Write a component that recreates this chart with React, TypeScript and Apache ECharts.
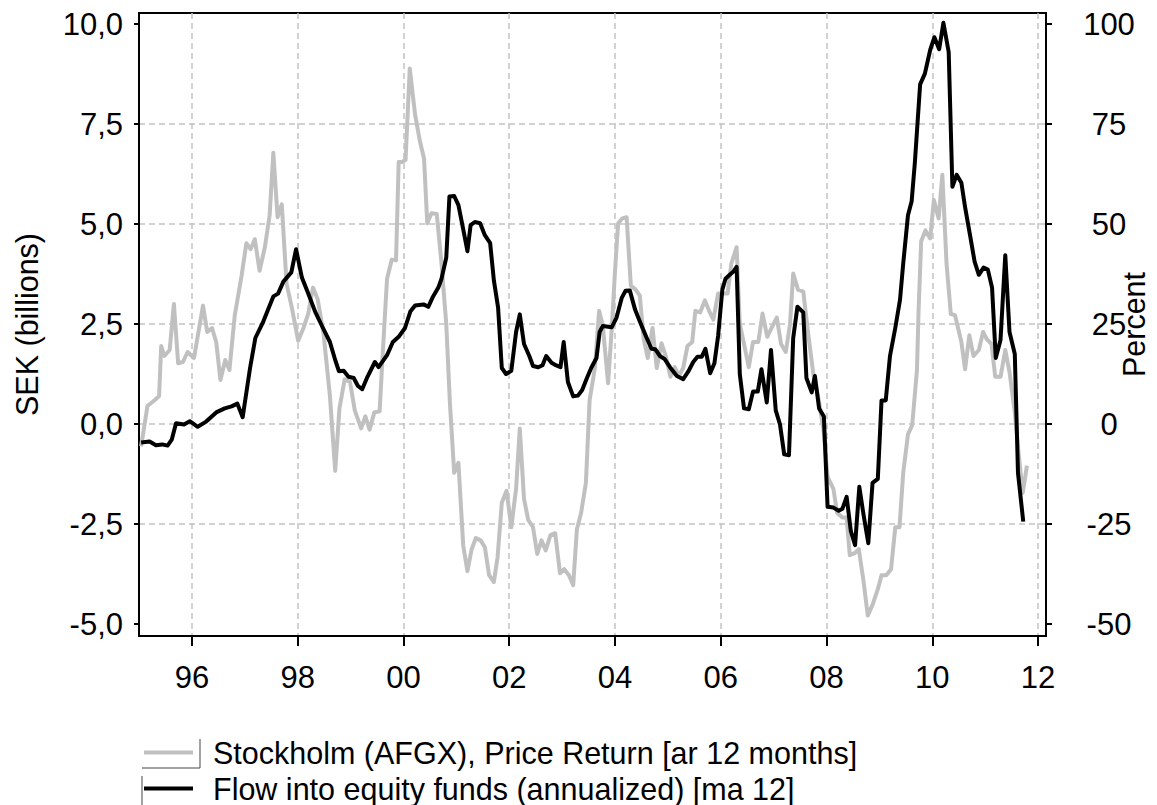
import React, { useEffect, useRef } from "react";
import * as echarts from "echarts";

const FONT = '"Liberation Sans", Arial, Helvetica, sans-serif';

// Flow into equity funds (annualized) [ma 12], SEK billions
const flowDates = [
  1995.04, 1995.2, 1995.32, 1995.44, 1995.54, 1995.62, 1995.7, 1995.85, 1995.96, 1996.11,
  1996.27, 1996.46, 1996.62, 1996.75, 1996.86, 1996.96, 1997.1, 1997.2, 1997.35, 1997.54,
  1997.63, 1997.73, 1997.88, 1997.97, 1998.08, 1998.2, 1998.33, 1998.46, 1998.61, 1998.71,
  1998.78, 1998.87, 1998.96, 1999.06, 1999.14, 1999.22, 1999.32, 1999.46, 1999.53, 1999.69,
  1999.8, 1999.91, 2000.03, 2000.13, 2000.22, 2000.38, 2000.47, 2000.55, 2000.66, 2000.72,
  2000.81, 2000.87, 2000.96, 2001.04, 2001.13, 2001.21, 2001.27, 2001.35, 2001.45, 2001.54,
  2001.64, 2001.71, 2001.79, 2001.86, 2001.94, 2002.04, 2002.13, 2002.2, 2002.28, 2002.38,
  2002.45, 2002.55, 2002.63, 2002.7, 2002.8, 2002.88, 2002.97, 2003.03, 2003.11, 2003.21,
  2003.3, 2003.38, 2003.47, 2003.55, 2003.65, 2003.71, 2003.77, 2003.94, 2004.03, 2004.13,
  2004.2, 2004.28, 2004.38, 2004.47, 2004.6, 2004.69, 2004.76, 2004.85, 2004.94, 2005.04,
  2005.17, 2005.29, 2005.39, 2005.48, 2005.56, 2005.64, 2005.71, 2005.8, 2005.88, 2005.95,
  2006.03, 2006.09, 2006.17, 2006.24, 2006.3, 2006.36, 2006.44, 2006.53, 2006.61, 2006.7,
  2006.77, 2006.87, 2006.95, 2007.04, 2007.12, 2007.2, 2007.29, 2007.37, 2007.45, 2007.56,
  2007.62, 2007.72, 2007.78, 2007.86, 2007.95, 2008.02, 2008.13, 2008.23, 2008.3, 2008.38,
  2008.46, 2008.54, 2008.62, 2008.7, 2008.79, 2008.87, 2008.97, 2009.04, 2009.12, 2009.2,
  2009.3, 2009.39, 2009.45, 2009.54, 2009.61, 2009.67, 2009.77, 2009.86, 2009.96, 2010.04,
  2010.13, 2010.21, 2010.31, 2010.38, 2010.46, 2010.55, 2010.62, 2010.72, 2010.8, 2010.88,
  2010.97, 2011.05, 2011.13, 2011.2, 2011.29, 2011.38, 2011.46, 2011.56, 2011.62, 2011.72,
];
const flowValues = [
  -0.46, -0.44, -0.53, -0.51, -0.54, -0.39, 0.02, -0.01, 0.07, -0.07,
  0.06, 0.29, 0.39, 0.44, 0.51, 0.17, 1.4, 2.15, 2.56, 3.19,
  3.26, 3.56, 3.79, 4.37, 3.66, 3.26, 2.81, 2.45, 2.05, 1.6,
  1.32, 1.33, 1.18, 1.15, 0.95, 0.87, 1.18, 1.55, 1.42, 1.72,
  2.05, 2.18, 2.4, 2.81, 2.96, 2.99, 2.93, 3.16, 3.41, 3.63,
  4.16, 5.69, 5.7, 5.47, 4.87, 4.32, 4.97, 5.05, 5.02, 4.72,
  4.52, 3.59, 2.91, 1.4, 1.25, 1.33, 2.3, 2.74, 2.0, 1.7,
  1.45, 1.42, 1.47, 1.7, 1.53, 1.47, 1.42, 2.05, 1.05, 0.69,
  0.71, 0.85, 1.15, 1.4, 1.65, 2.3, 2.45, 2.42, 2.66, 3.16,
  3.33, 3.34, 2.86, 2.56, 2.15, 1.88, 1.87, 1.7, 1.62, 1.42,
  1.2, 1.12, 1.32, 1.55, 1.68, 1.68, 1.88, 1.27, 1.52, 2.2,
  3.36, 3.63, 3.73, 3.81, 3.93, 1.25, 0.39, 0.37, 0.81, 0.81,
  1.37, 0.54, 1.85, 0.34, -0.01, -0.76, -0.78, 2.15, 2.93, 2.79,
  1.15, 0.79, 1.2, 0.39, 0.19, -2.07, -2.09, -2.17, -2.12, -1.82,
  -2.68, -3.03, -1.57, -2.27, -2.98, -1.47, -1.37, 0.59, 0.59, 1.7,
  2.4, 3.11, 4.01, 5.22, 5.57, 6.53, 8.49, 8.76, 9.35, 9.67,
  9.37, 10.03, 9.3, 5.93, 6.23, 6.03, 5.42, 4.67, 4.06, 3.73,
  3.91, 3.86, 3.41, 1.65, 2.1, 4.22, 2.3, 1.75, -1.22, -2.44,
];

// Stockholm (AFGX), Price Return [ar 12 months], percent
const stockDates = [
  1995.04, 1995.16, 1995.3, 1995.38, 1995.42, 1995.48, 1995.58, 1995.66, 1995.74, 1995.83,
  1995.92, 1996.04, 1996.21, 1996.29, 1996.38, 1996.46, 1996.54, 1996.63, 1996.71, 1996.81,
  1996.94, 1997.03, 1997.11, 1997.19, 1997.28, 1997.38, 1997.47, 1997.54, 1997.62, 1997.7,
  1997.79, 1997.89, 1998.01, 1998.11, 1998.2, 1998.29, 1998.38, 1998.49, 1998.61, 1998.71,
  1998.79, 1998.89, 1998.99, 1999.08, 1999.2, 1999.28, 1999.36, 1999.45, 1999.55, 1999.61,
  1999.69, 1999.78, 1999.86, 1999.91, 1999.97, 2000.04, 2000.12, 2000.22, 2000.31, 2000.39,
  2000.45, 2000.53, 2000.63, 2000.72, 2000.81, 2000.88, 2000.96, 2001.04, 2001.13, 2001.21,
  2001.29, 2001.37, 2001.46, 2001.54, 2001.62, 2001.71, 2001.78, 2001.86, 2001.95, 2002.04,
  2002.13, 2002.2, 2002.28, 2002.36, 2002.45, 2002.53, 2002.61, 2002.69, 2002.78, 2002.87,
  2002.96, 2003.04, 2003.13, 2003.21, 2003.28, 2003.36, 2003.45, 2003.52, 2003.62, 2003.7,
  2003.77, 2003.87, 2003.94, 2004.0, 2004.06, 2004.14, 2004.22, 2004.3, 2004.39, 2004.47,
  2004.54, 2004.62, 2004.71, 2004.79, 2004.88, 2004.96, 2005.05, 2005.13, 2005.21, 2005.29,
  2005.37, 2005.46, 2005.52, 2005.61, 2005.7, 2005.78, 2005.86, 2005.95, 2006.03, 2006.13,
  2006.2, 2006.3, 2006.36, 2006.44, 2006.53, 2006.61, 2006.71, 2006.79, 2006.88, 2006.96,
  2007.06, 2007.14, 2007.23, 2007.31, 2007.37, 2007.46, 2007.56, 2007.65, 2007.75, 2007.84,
  2007.94, 2008.02, 2008.13, 2008.2, 2008.3, 2008.38, 2008.44, 2008.53, 2008.61, 2008.7,
  2008.78, 2008.87, 2008.97, 2009.04, 2009.13, 2009.22, 2009.3, 2009.38, 2009.45, 2009.54,
  2009.62, 2009.71, 2009.74, 2009.79, 2009.87, 2009.96, 2010.03, 2010.12, 2010.19, 2010.27,
  2010.35, 2010.43, 2010.55, 2010.62, 2010.7, 2010.78, 2010.88, 2010.96, 2011.03, 2011.12,
  2011.19, 2011.29, 2011.38, 2011.46, 2011.56, 2011.63, 2011.71, 2011.79,
];
const stockValues = [
  -5.6, 4.5, 6.0, 7.0, 19.5, 17.0, 18.5, 30.0, 15.2, 15.5,
  18.0, 16.5, 29.6, 23.0, 24.0, 20.5, 11.0, 16.0, 13.5, 27.1,
  37.1, 45.2, 43.7, 46.2, 38.3, 44.2, 52.2, 67.8, 51.7, 54.9,
  35.1, 29.1, 20.8, 24.0, 27.6, 34.1, 31.1, 22.5, 7.0, -11.7,
  3.9, 11.2, 10.5, 3.4, -1.1, 1.9, -1.4, 2.9, 3.2, 18.0,
  36.3, 41.1, 40.9, 65.5, 65.5, 66.0, 88.9, 77.4, 70.8, 66.3,
  50.2, 52.7, 52.5, 40.1, 25.0, 4.9, -12.2, -9.7, -30.3, -36.8,
  -31.3, -28.5, -29.1, -30.8, -37.8, -39.5, -33.3, -19.7, -16.7, -25.8,
  -16.2, -1.1, -18.7, -24.0, -25.8, -32.5, -29.1, -31.6, -27.8, -27.3,
  -37.3, -36.3, -37.8, -40.3, -26.3, -22.2, -14.7, 5.9, 14.0, 28.3,
  24.5, 10.2, 24.0, 38.1, 50.2, 51.4, 51.7, 34.6, 33.6, 32.1,
  21.5, 16.5, 24.0, 14.0, 20.2, 17.0, 11.8, 14.2, 12.0, 14.0,
  19.5, 20.5, 28.3, 27.9, 30.9, 28.3, 26.1, 32.6, 32.6, 32.6,
  40.1, 44.2, 25.0, 20.0, 14.2, 20.5, 20.5, 27.6, 21.8, 24.0,
  26.6, 20.0, 18.0, 25.0, 37.6, 33.6, 33.1, 23.0, 12.5, 6.9,
  -1.1, -13.2, -16.2, -22.2, -23.4, -23.4, -32.8, -32.3, -31.3, -39.3,
  -47.9, -45.2, -41.3, -37.8, -37.8, -36.3, -25.8, -25.8, -12.2, -2.6,
  -0.3, 13.5, 28.1, 45.7, 48.4, 46.4, 56.0, 51.4, 62.3, 40.0,
  27.5, 27.2, 20.5, 13.7, 22.2, 17.0, 18.5, 23.0, 21.2, 20.0,
  11.8, 11.8, 18.5, 13.0, 2.9, -7.1, -17.2, -10.4,
];

const xTicks = [1996, 1998, 2000, 2002, 2004, 2006, 2008, 2010, 2012];
const leftTicks = [-5, -2.5, 0, 2.5, 5, 7.5, 10];
const rightTicks = [-50, -25, 0, 25, 50, 75, 100];
const gridTicks = [-2.5, 0, 2.5, 5, 7.5];

const SERIES_STOCK = "Stockholm (AFGX), Price Return [ar 12 months]";
const SERIES_FLOW = "Flow into equity funds (annualized) [ma 12]";

export default function App() {
  const ref = useRef<HTMLDivElement>(null);

  useEffect(() => {
    if (!ref.current) return;
    const chart = echarts.init(ref.current, undefined, { renderer: "svg" });
    const FS = 31;
    const FSL = 30.5;
    const axisLineStyle = { color: "#000", width: 2 };
    const gridLine = { color: "#c4c4c4", width: 1.5, type: [6, 4] as any };
    const thin = { stroke: "#444", lineWidth: 1 };
    const legendBase = {
      orient: "horizontal",
      left: 144,
      itemWidth: 49,
      itemHeight: 4,
      padding: 0,
      icon: "rect",
      selectedMode: false,
      textStyle: { fontSize: FSL, color: "#000", fontFamily: FONT, padding: [0, 0, 0, 15] },
    };

    chart.setOption({
      animation: false,
      backgroundColor: "#fff",
      textStyle: { fontFamily: FONT },
      grid: {
        left: 139,
        top: 13,
        right: 111,
        bottom: 169,
        show: true,
        borderColor: "#000",
        borderWidth: 2,
        backgroundColor: "transparent",
        containLabel: false,
        outerBoundsMode: "none",
      },
      legend: [
        { ...legendBase, top: 737, data: [SERIES_STOCK] },
        { ...legendBase, top: 773, data: [SERIES_FLOW] },
      ],
      graphic: [
        { type: "line", shape: { x1: 142, y1: 768, x2: 200, y2: 768 }, style: thin, silent: true },
        { type: "line", shape: { x1: 200, y1: 739, x2: 200, y2: 768 }, style: thin, silent: true },
        { type: "line", shape: { x1: 142, y1: 776, x2: 142, y2: 805 }, style: thin, silent: true },
      ],
      xAxis: {
        type: "value",
        min: 1995.0,
        max: 2012.15,
        axisLine: { show: true, onZero: false, lineStyle: axisLineStyle },
        axisTick: { show: true, length: 10, customValues: xTicks, lineStyle: axisLineStyle },
        axisLabel: {
          customValues: xTicks,
          fontSize: FS,
          color: "#000",
          fontFamily: FONT,
          margin: 26,
          formatter: (v: number) => String(Math.round(v) % 100).padStart(2, "0"),
        },
        splitLine: { show: true, lineStyle: gridLine },
      },
      yAxis: [
        {
          type: "value",
          position: "left",
          min: -5.3,
          max: 10.275,
          name: "SEK (billions)",
          nameLocation: "middle",
          nameGap: 97,
          nameMoveOverlap: false,
          nameTextStyle: { fontSize: FSL, color: "#000", fontFamily: FONT },
          axisLine: { show: true, onZero: false, lineStyle: axisLineStyle },
          axisTick: { show: true, length: 5, customValues: leftTicks, lineStyle: axisLineStyle },
          axisLabel: {
            customValues: leftTicks,
            fontSize: FS,
            color: "#000",
            fontFamily: FONT,
            margin: 16,
            formatter: (v: number) => v.toFixed(1).replace(".", ","),
          },
          splitLine: { show: false },
        },
        {
          type: "value",
          position: "right",
          min: -53,
          max: 102.75,
          name: "Percent",
          nameLocation: "middle",
          nameGap: 72,
          nameMoveOverlap: false,
          nameTextStyle: { fontSize: FSL, color: "#000", fontFamily: FONT },
          axisLine: { show: true, onZero: false, lineStyle: axisLineStyle },
          axisTick: { show: true, length: 6, customValues: rightTicks, lineStyle: axisLineStyle },
          axisLabel: {
            customValues: rightTicks,
            fontSize: FS,
            color: "#000",
            fontFamily: FONT,
            margin: 63,
            align: "center",
            formatter: (v: number) => String(v),
          },
          splitLine: { show: false },
        },
        {
          type: "value",
          position: "left",
          min: -5.3,
          max: 10.275,
          axisLine: { show: false },
          axisTick: { show: false, customValues: gridTicks },
          axisLabel: { show: false },
          splitLine: { show: true, lineStyle: gridLine },
        },
      ],
      series: [
        {
          name: SERIES_STOCK,
          type: "line",
          yAxisIndex: 1,
          symbol: "none",
          showSymbol: false,
          lineStyle: { color: "#c0c0c0", width: 4, join: "round" },
          itemStyle: { color: "#c0c0c0" },
          data: stockDates.map((d, i) => [d, stockValues[i]]),
          z: 2,
        },
        {
          name: SERIES_FLOW,
          type: "line",
          yAxisIndex: 0,
          symbol: "none",
          showSymbol: false,
          lineStyle: { color: "#000", width: 4, join: "round" },
          itemStyle: { color: "#000" },
          data: flowDates.map((d, i) => [d, flowValues[i]]),
          z: 3,
        },
      ],
    });
    return () => chart.dispose();
  }, []);

  return (
    <div
      ref={ref}
      style={{ position: "absolute", left: 0, top: 0, width: 1157, height: 805 }}
    />
  );
}
